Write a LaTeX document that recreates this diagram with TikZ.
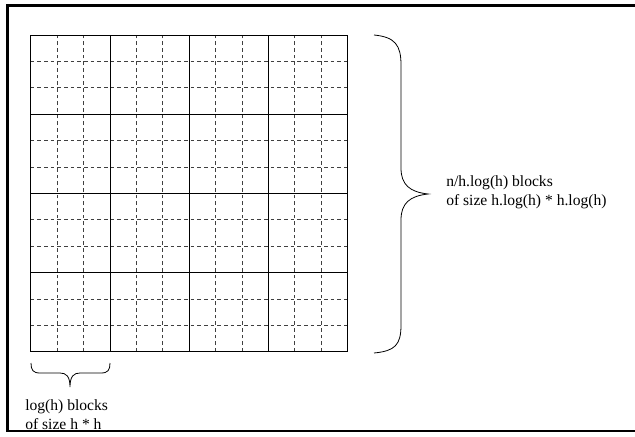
\documentclass[tikz,border=0pt]{standalone}
\usepackage{fontspec}
\setmainfont{Liberation Serif}
\usepackage{tikz}

\begin{document}
\begin{tikzpicture}[x=.75pt,y=.75pt,
  minor/.style={black!75,line width=.6pt,dash pattern=on 2.8pt off 2.2pt},
  major/.style={black,line width=.6pt},
  txt/.style={anchor=west,align=left,inner sep=0pt,font=\fontsize{11.7}{14.3}\selectfont}]
 \useasboundingbox (0,0) rectangle (635,436);
 \draw[line width=1.9pt] (635,430.5)--(7.5,430.5)--(7.5,5)--(635,5);
 % the blocks
 \begin{scope}[shift={(30.7,84.2)}]
  \draw[minor] (0,0) grid[step=26.4] (316.8,316.8);
  \draw[major] (0,0) grid[step=79.2] (316.8,316.8);
  \draw[major] (0,0) rectangle (316.8,316.8);
 \end{scope}
 % braces
 \draw[line width=.6pt] (374,401) .. controls (395,399) and (401,391) .. (401,371) -- (401,268)
   .. controls (401,251) and (410,244) .. (428,242) .. controls (410,240) and (401,233) .. (401,216)
   -- (401,111) .. controls (401,91) and (395,85) .. (374,83);
 \draw[line width=.6pt] (31,73) .. controls (31,66) and (33,63) .. (40,63) -- (60,63)
   .. controls (66,63) and (70,60) .. (70,49) .. controls (70,60) and (74,63) .. (80,63)
   -- (101,63) .. controls (108,63) and (110,66) .. (110,73);
 \node[txt] (bigtxt) at (446,243.5) {n/h.log(h) blocks\\of size h.log(h) * h.log(h)};
 \node[txt] (smalltxt) at (25,21) {log(h) blocks\\of size h * h};
\end{tikzpicture}
\end{document}
